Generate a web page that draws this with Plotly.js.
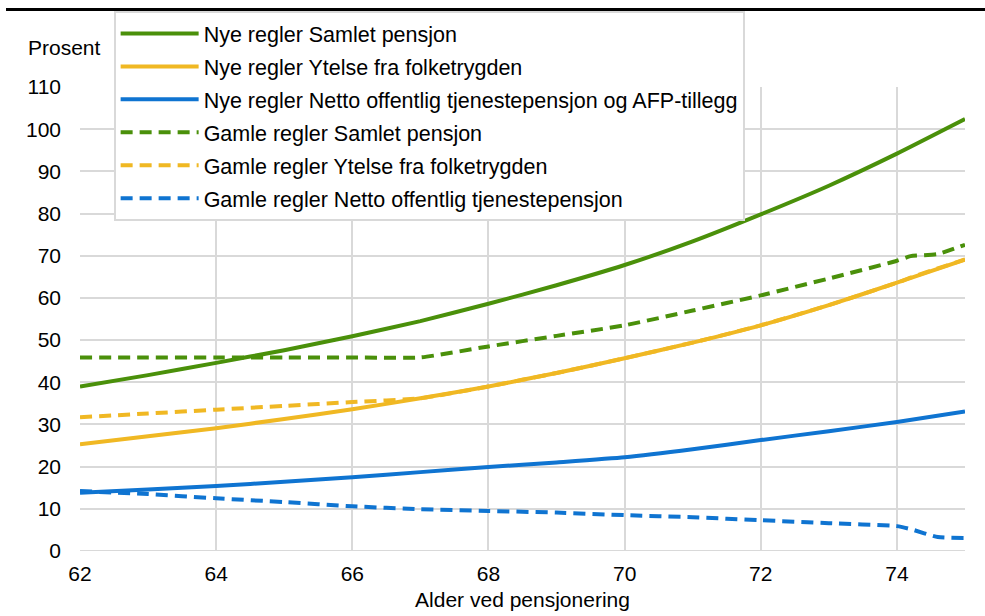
<!DOCTYPE html>
<html>
<head>
<meta charset="utf-8">
<script src="https://cdn.plot.ly/plotly-3.0.1.min.js"></script>
<style>html,body{margin:0;padding:0;background:#fff;}#chart{width:985px;height:616px;}</style>
</head>
<body>
<div id="chart"></div>
<script>
// Data
var ages = [62, 63, 64, 65, 66, 67, 68, 69, 70, 71, 72, 73, 74, 75];
var nyeSamlet = [39.0, 41.7, 44.6, 47.6, 50.9, 54.5, 58.6, 63.0, 67.8, 73.4, 79.8, 86.6, 94.2, 102.4];
var nyeYtelse = [25.3, 27.2, 29.1, 31.3, 33.6, 36.2, 39.0, 42.2, 45.7, 49.4, 53.5, 58.3, 63.6, 69.1];
var nyeNetto = [13.8, 14.6, 15.4, 16.4, 17.5, 18.7, 19.9, 21.0, 22.2, 24.1, 26.3, 28.4, 30.6, 33.1];

var agesGamle = [62, 63, 64, 65, 66, 67, 68, 69, 70, 71, 72, 73, 74, 74.2, 74.6, 75];
var gamleSamlet = [45.9, 45.9, 45.9, 45.9, 45.9, 45.9, 48.5, 51.0, 53.5, 57.0, 60.6, 64.6, 68.8, 69.9, 70.4, 72.6];
var gamleYtelse = [31.7, 32.6, 33.5, 34.4, 35.3, 36.2, 39.0, 42.2, 45.7, 49.4, 53.5, 58.3, 63.6, 64.8, 67.0, 69.1];
var gamleNetto = [14.2, 13.5, 12.5, 11.6, 10.6, 9.9, 9.5, 9.1, 8.5, 8.0, 7.3, 6.6, 5.9, 5.2, 3.3, 3.1];

var names = [
  'Nye regler Samlet pensjon',
  'Nye regler Ytelse fra folketrygden',
  'Nye regler Netto offentlig tjenestepensjon og AFP-tillegg',
  'Gamle regler Samlet pensjon',
  'Gamle regler Ytelse fra folketrygden',
  'Gamle regler Netto offentlig tjenestepensjon'
];
var xTicks = [62, 64, 66, 68, 70, 72, 74];
var yTicks = [0, 10, 20, 30, 40, 50, 60, 70, 80, 90, 100, 110];

var GREEN = '#4a900a', GOLD = '#f0b823', BLUE = '#0f74d1';
var DASH = '12px,7px';

function tr(x, y, name, color, dash, g) {
  return {x: x, y: y, name: name, type: 'scatter', mode: 'lines',
    legendgroup: g,
    line: {color: color, width: 4, dash: dash, shape: 'spline', smoothing: 0.5},
    hoverinfo: 'skip'};
}

var data = [
  tr(ages, nyeSamlet, names[0], GREEN, 'solid', 'g1'),
  tr(ages, nyeYtelse, names[1], GOLD, 'solid', 'g2'),
  tr(ages, nyeNetto, names[2], BLUE, 'solid', 'g3'),
  tr(agesGamle, gamleSamlet, names[3], GREEN, DASH, 'g4'),
  tr(agesGamle, gamleYtelse, names[4], GOLD, DASH, 'g5'),
  tr(agesGamle, gamleNetto, names[5], BLUE, DASH, 'g6')
];

var FONT = 'Liberation Sans, Arial, sans-serif';
var FS = 21;
var layout = {
  width: 985, height: 616,
  margin: {l: 80, r: 20, t: 86, b: 65, pad: 0},
  paper_bgcolor: '#ffffff', plot_bgcolor: '#ffffff',
  font: {family: FONT, size: FS, color: '#000000'},
  showlegend: true,
  legend: {
    traceorder: 'grouped', tracegroupgap: 2,
    x: 0.038, y: 1.1613, xanchor: 'left', yanchor: 'top',
    bgcolor: '#ffffff', bordercolor: '#d9d9d9', borderwidth: 2,
    font: {family: FONT, size: 21.5, color: '#000000'},
    itemwidth: 78
  },
  xaxis: {
    range: [62, 75], tickvals: xTicks, ticktext: xTicks.map(String),
    showgrid: true, gridcolor: '#d9d9d9', gridwidth: 2,
    zeroline: false, showline: false, ticks: '',
    ticklabelstandoff: 8,
    tickfont: {family: FONT, size: FS, color: '#000000'},
    title: {text: 'Alder ved pensjonering', standoff: 8, font: {family: FONT, size: FS, color: '#000000'}}
  },
  yaxis: {
    range: [0, 110], tickvals: yTicks, ticktext: yTicks.map(String),
    showgrid: true, gridcolor: '#d9d9d9', gridwidth: 2,
    zeroline: false, showline: false, ticks: '',
    ticklabelstandoff: 18,
    tickfont: {family: FONT, size: FS, color: '#000000'}
  },
  shapes: [
    {type: 'line', xref: 'paper', yref: 'paper', x0: -0.0836, x1: 1.03, y0: 1.167, y1: 1.167,
     line: {color: '#000000', width: 3}},
    {type: 'line', xref: 'paper', yref: 'y', x0: 0, x1: 1, y0: 0, y1: 0, layer: 'below',
     line: {color: '#d9d9d9', width: 2}}
  ],
  annotations: [
    {text: 'Prosent', xref: 'paper', yref: 'paper', x: -0.018, y: 1.086,
     xanchor: 'center', yanchor: 'middle', showarrow: false,
     font: {family: FONT, size: FS, color: '#000000'}}
  ]
};

Plotly.newPlot('chart', data, layout, {displayModeBar: false, staticPlot: true});
</script>
</body>
</html>
